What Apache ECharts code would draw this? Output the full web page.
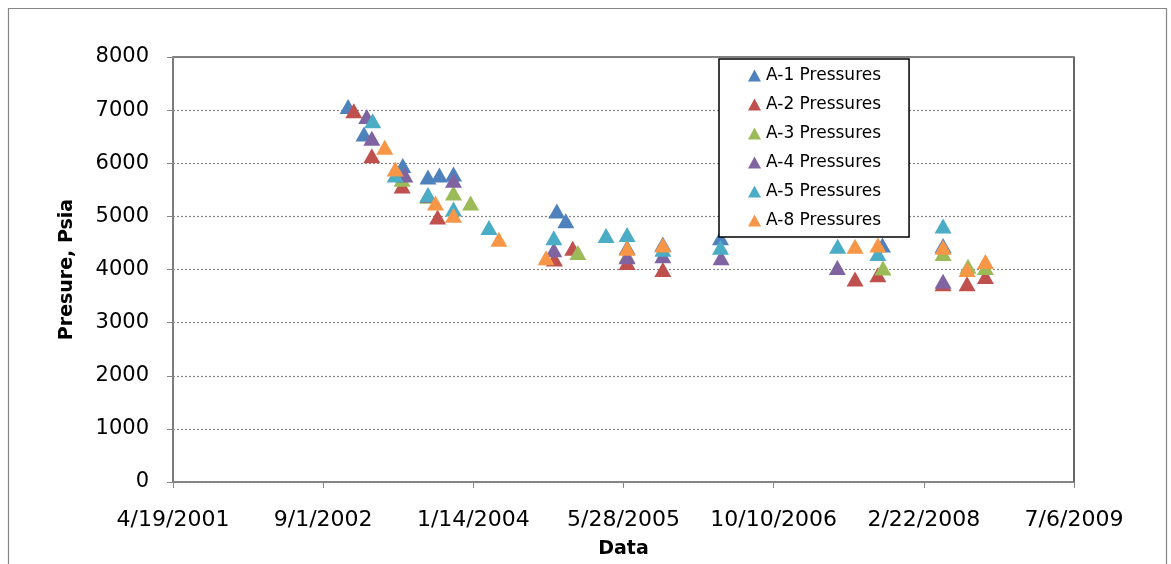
<!DOCTYPE html>
<html>
<head>
<meta charset="utf-8">
<script src="https://cdn.jsdelivr.net/npm/echarts@6/dist/echarts.min.js"></script>
<style>
html,body{margin:0;padding:0;background:#fff;}
#chart{width:1171px;height:564px;}
</style>
</head>
<body>
<div id="chart"></div>
<script>
// ---- Data (dates, pressures in psia) ----
const seriesNames = ['A-1 Pressures','A-2 Pressures','A-3 Pressures','A-4 Pressures','A-5 Pressures','A-8 Pressures'];

const a1Dates = ['2002-11-23','2003-01-15','2003-05-24','2003-08-16','2003-09-23','2003-11-09','2004-10-18','2004-11-17','2005-06-09','2005-10-06','2006-04-16','2007-10-07','2008-04-26'];
const a1Vals  = [7070,6550,5960,5740,5780,5800,5100,4920,4420,4480,4600,4460,4450];

const a2Dates = ['2002-12-12','2003-02-10','2003-05-22','2003-09-17','2004-10-10','2004-12-10','2005-06-09','2005-10-06','2007-07-08','2007-09-22','2008-04-26','2008-07-15','2008-09-14'];
const a2Vals  = [6990,6140,5570,4990,4200,4400,4130,4000,3820,3900,3730,3730,3870];

const a3Dates = ['2003-05-22','2003-08-16','2003-11-09','2004-01-05','2004-12-27','2005-06-09','2007-10-09','2008-04-26','2008-07-18','2008-09-14'];
const a3Vals  = [5700,5380,5440,5250,4320,4260,4030,4300,4060,4040];

const a4Dates = ['2003-01-24','2003-02-10','2003-05-31','2003-08-16','2003-11-09','2004-10-08','2005-06-09','2005-10-06','2006-04-18','2007-05-10','2008-04-26'];
const a4Vals  = [6880,6470,5780,5400,5680,4370,4240,4260,4220,4040,3780];

const a5Dates = ['2003-02-13','2003-04-29','2003-08-16','2003-11-09','2004-03-06','2004-10-08','2005-03-31','2005-06-09','2005-10-06','2006-04-16','2007-05-11','2007-09-22','2008-04-26'];
const a5Vals  = [6800,5780,5410,5140,4790,4600,4640,4660,4380,4420,4440,4300,4820];

const a8Dates = ['2003-03-25','2003-04-29','2003-09-10','2003-11-09','2004-04-08','2004-09-12','2005-06-09','2005-10-06','2007-07-08','2007-09-22','2008-04-26','2008-07-15','2008-09-14'];
const a8Vals  = [6300,5890,5250,5020,4570,4220,4400,4460,4440,4460,4420,4000,4150];

const colors = ['#4F81BD','#C0504D','#9BBB59','#8064A2','#4BACC6','#F79646'];

// x axis: Excel-style date serials, ticks every 500 days from 4/19/2001 (37000) to 7/6/2009 (40000)
const xMin = 37000, xMax = 40000, xStep = 500;
const yMin = 0, yMax = 8000, yStep = 1000;

const EPOCH = Date.UTC(1899, 11, 30);
function toSerial(s){
  const p = s.split('-').map(Number);
  return Math.round((Date.UTC(p[0], p[1]-1, p[2]) - EPOCH) / 86400000);
}
function serialLabel(v){
  const d = new Date(EPOCH + Math.round(v) * 86400000);
  return (d.getUTCMonth()+1) + '/' + d.getUTCDate() + '/' + d.getUTCFullYear();
}
function pairs(dates, vals){ return dates.map((d,i)=>[toSerial(d), vals[i]]); }

const allDates = [a1Dates,a2Dates,a3Dates,a4Dates,a5Dates,a8Dates];
const allVals  = [a1Vals,a2Vals,a3Vals,a4Vals,a5Vals,a8Vals];

const FONT = 'DejaVu Sans';
const chart = echarts.init(document.getElementById('chart'), null, {renderer:'canvas'});

chart.setOption({
  animation:false,
  backgroundColor:'#fff',
  color: colors,
  graphic:[{
    type:'rect', left:6, top:6, silent:true,
    shape:{x:0,y:0,width:1158,height:620},
    style:{fill:'none', stroke:'#868686', lineWidth:1.2}
  }],
  grid:{left:173, right:97, top:57, bottom:71, show:true, borderColor:'#000', borderWidth:1.2, containLabel:false},
  legend:{
    orient:'vertical', left:719, top:59,
    data: seriesNames,
    icon:'triangle', itemWidth:13, itemHeight:12, itemGap:12,
    padding:[8,28,8,29],
    borderColor:'#000', borderWidth:1.5, backgroundColor:'#fff',
    textStyle:{fontFamily:FONT, fontSize:17, lineHeight:17, color:'#000'}
  },
  xAxis:{
    type:'value', min:xMin, max:xMax, interval:xStep,
    name:'Data', nameLocation:'middle', nameGap:58,
    nameTextStyle:{fontFamily:FONT, fontWeight:'bold', fontSize:19, color:'#000'},
    axisLine:{show:true, onZero:false, lineStyle:{color:'#868686', width:1.5}},
    axisTick:{show:true, inside:false, length:6, lineStyle:{color:'#868686'}},
    axisLabel:{fontFamily:FONT, fontSize:22, color:'#000', margin:27, formatter:serialLabel},
    splitLine:{show:false}
  },
  yAxis:{
    type:'value', min:yMin, max:yMax, interval:yStep,
    name:'Presure, Psia', nameLocation:'middle', nameGap:96, nameRotate:90,
    nameTextStyle:{fontFamily:FONT, fontWeight:'bold', fontSize:19, color:'#000'},
    axisLine:{show:true, lineStyle:{color:'#868686', width:1.5}},
    axisTick:{show:true, inside:false, length:6, lineStyle:{color:'#868686'}},
    axisLabel:{fontFamily:FONT, fontSize:21, color:'#000', margin:24, formatter:function(v){return String(v);}},
    splitLine:{show:true, lineStyle:{color:'#868686', type:[2,2], width:1.2}}
  },
  series: seriesNames.map((n,i)=>({
    name:n, type:'scatter',
    symbol:'triangle', symbolSize:[17,15],
    itemStyle:{color:colors[i], opacity:1},
    data: pairs(allDates[i], allVals[i])
  }))
});
</script>
</body>
</html>
